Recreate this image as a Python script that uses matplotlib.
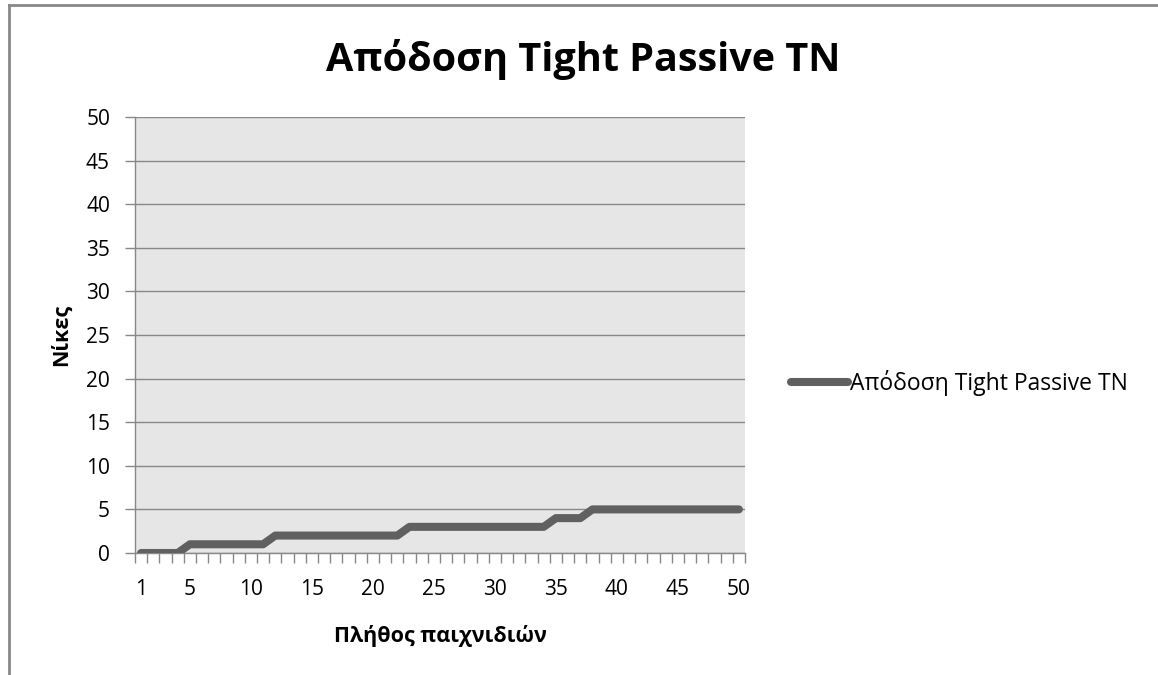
import matplotlib
matplotlib.use("Agg")
import matplotlib.pyplot as plt
from matplotlib.lines import Line2D

games = list(range(1, 51))
wins = [0]*4 + [1]*7 + [2]*11 + [3]*12 + [4]*3 + [5]*13
title = "Απόδοση Tight Passive TN"
series_name = "Απόδοση Tight Passive TN"
xlabel = "Πλήθος παιχνιδιών"
ylabel = "Νίκες"
xtick_labels = [1, 5, 10, 15, 20, 25, 30, 35, 40, 45, 50]
ytick_values = list(range(0, 55, 5))

plt.rcParams['font.family'] = ['Open Sans', 'DejaVu Sans']

fig = plt.figure(figsize=(11.58, 6.75), dpi=100)
ax = fig.add_axes([135/1158, 1-553/675, 610/1158, (553-117)/675])
ax.set_facecolor('#e6e6e6')

line, = ax.plot(games, wins, color='#606060', lw=5.8, solid_capstyle='round',
                solid_joinstyle='round', zorder=3)

ax.set_xlim(0.5, 50.5)
ax.set_ylim(0, 50)
ax.set_yticks(ytick_values)
ax.set_yticklabels([str(v) for v in ytick_values], fontsize=15)
ax.set_xticks(xtick_labels)
ax.set_xticklabels([str(v) for v in xtick_labels], fontsize=15)
ax.set_xticks([i + 0.5 for i in range(0, 51)], minor=True)
ax.tick_params(axis='x', which='major', length=0, pad=19)
ax.tick_params(axis='x', which='minor', length=7, color='#888888', width=1)
ax.tick_params(axis='y', length=7, color='#888888', width=1, pad=11)
ax.grid(axis='y', color='#888888', lw=1)
ax.set_axisbelow(True)
for s in ['top', 'right']:
    ax.spines[s].set_visible(False)
for s in ['left', 'bottom']:
    ax.spines[s].set_color('#888888')
    ax.spines[s].set_linewidth(1)

ax.set_xlabel(xlabel, fontsize=15.5, fontweight='bold', labelpad=18)
ax.set_ylabel(ylabel, fontsize=15.5, fontweight='bold', labelpad=10)
fig.suptitle(title, fontsize=28.5, fontweight='bold', x=583/1158,
             y=1-60/675, va='center')

leg = fig.legend([Line2D([0], [0], color='#606060', lw=5.8, solid_capstyle='round')],
                 [series_name], loc='center left', bbox_to_anchor=(770/1158, 1-383/675),
                 frameon=False, fontsize=16.5, handlelength=2.5, handletextpad=0.1)

fig.add_artist(Line2D([9/1158, 9/1158], [0, 1-5/675], color='#888888', lw=2,
                      transform=fig.transFigure))
fig.add_artist(Line2D([9/1158, 1], [1-5/675, 1-5/675], color='#888888', lw=2,
                      transform=fig.transFigure))

fig.savefig('out.png', dpi=100)
